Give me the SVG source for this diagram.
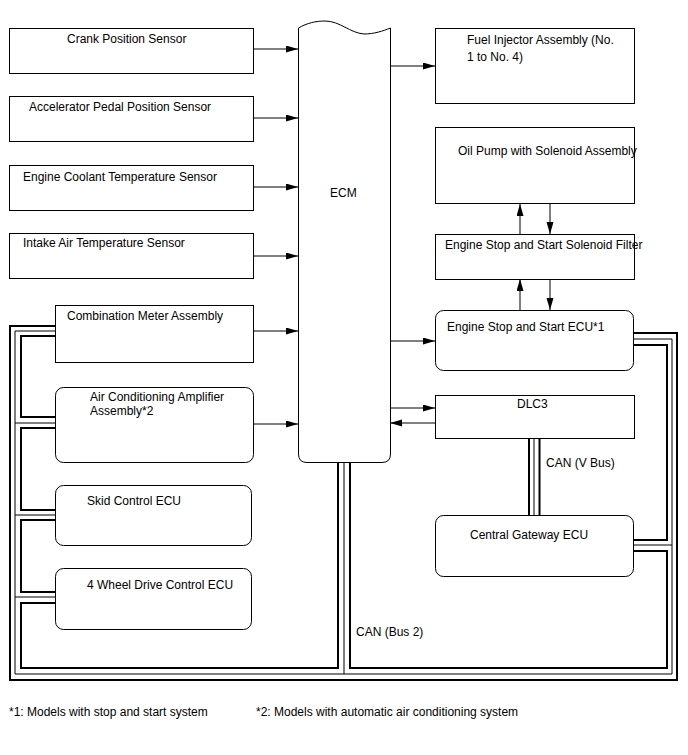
<svg xmlns="http://www.w3.org/2000/svg" width="688" height="755" viewBox="0 0 688 755">
<style>
text{font-family:"Liberation Sans",Arial,sans-serif;font-size:12px;fill:#000}
.box{fill:#fff;stroke:#000;stroke-width:1}
.ln{fill:none;stroke:#000;stroke-width:1}
.thick{fill:none;stroke:#000;stroke-width:2}
.thin{fill:none;stroke:#000;stroke-width:1}
</style>
<defs>
<marker id="ah" markerUnits="userSpaceOnUse" markerWidth="12" markerHeight="8" refX="12" refY="3.5" orient="auto">
<path d="M0,0 L12,3.5 L0,7 z" fill="#000"/>
</marker>
</defs>
<g id="connectors">
<path class="ln" d="M254,49 H298" marker-end="url(#ah)"/>
<path class="ln" d="M254,118 H298" marker-end="url(#ah)"/>
<path class="ln" d="M254,187 H298" marker-end="url(#ah)"/>
<path class="ln" d="M254,256 H298" marker-end="url(#ah)"/>
<path class="ln" d="M254,331 H298" marker-end="url(#ah)"/>
<path class="ln" d="M254,424 H298" marker-end="url(#ah)"/>
<path class="ln" d="M390,66 H435" marker-end="url(#ah)"/>
<path class="ln" d="M390,341 H435" marker-end="url(#ah)"/>
<path class="ln" d="M390,408 H435" marker-end="url(#ah)"/>
<path class="ln" d="M435,423 H390" marker-end="url(#ah)"/>
<path class="ln" d="M520,234 V204" marker-end="url(#ah)"/>
<path class="ln" d="M550,204 V234" marker-end="url(#ah)"/>
<path class="ln" d="M520,310 V279" marker-end="url(#ah)"/>
<path class="ln" d="M550,279 V310" marker-end="url(#ah)"/>
<path class="thick" d="M55,326 H10 V680 H677 V333 H634"/>
<path class="thin" d="M55,331 H15 V674 H672 V339 H634"/>
<path class="thin" d="M15,423 H55 M15,515 H55 M15,597 H55 M344,462 V674 M672,545 H634"/>
<path class="thick" d="M55,336 H21 V417 H55 M55,428 H21 V510 H55 M55,520 H21 V592 H55 M55,603 H21 V668 H338 V462"/>
<path class="thick" d="M350,462 V668 H667 V551 H634 M634,345 H667 V540 H634"/>
<path class="thick" d="M529,438 V515 M539.5,438 V515"/>
<path class="thin" d="M534,438 V515"/>
</g>
<g id="crank"><rect class="box" x="9.5" y="28.5" width="244" height="45"/><text x="67" y="43">Crank Position Sensor</text></g>
<g id="accel"><rect class="box" x="9.5" y="96.5" width="244" height="45"/><text x="29" y="111">Accelerator Pedal Position Sensor</text></g>
<g id="coolant"><rect class="box" x="9.5" y="165.5" width="244" height="45"/><text x="23" y="181">Engine Coolant Temperature Sensor</text></g>
<g id="intake"><rect class="box" x="9.5" y="233.5" width="244" height="45"/><text x="23" y="247">Intake Air Temperature Sensor</text></g>
<g id="combo"><rect class="box" x="55.5" y="305.5" width="198" height="57"/><text x="67" y="320">Combination Meter Assembly</text></g>
<g id="aircon"><rect class="box" x="55.5" y="387.5" width="198" height="75" rx="8"/><text x="90" y="401">Air Conditioning Amplifier</text><text x="90" y="415">Assembly*2</text></g>
<g id="skid"><rect class="box" x="55.5" y="485.5" width="196" height="60" rx="8"/><text x="87" y="505">Skid Control ECU</text></g>
<g id="fwd"><rect class="box" x="55.5" y="568.5" width="196" height="61" rx="8"/><text x="87" y="589">4 Wheel Drive Control ECU</text></g>
<g id="ecm"><path class="box" d="M298.5,28 C307,23 316,21 325,21 C340,21 350,33 364,34 C374,34 383,31 390.5,28 V454 Q390.5,462.5 382,462.5 H307 Q298.5,462.5 298.5,454 Z"/><text x="330" y="197">ECM</text></g>
<g id="fuel"><rect class="box" x="435.5" y="28.5" width="199" height="75"/><text x="467" y="44">Fuel Injector Assembly (No.</text><text x="467" y="61">1 to No. 4)</text></g>
<g id="oilpump"><rect class="box" x="435.5" y="127.5" width="199" height="76"/><text x="458" y="155">Oil Pump with Solenoid Assembly</text></g>
<g id="filter"><rect class="box" x="435.5" y="234.5" width="199" height="45"/><text x="445" y="249">Engine Stop and Start Solenoid Filter</text></g>
<g id="ssecu"><rect class="box" x="435.5" y="310.5" width="198" height="60" rx="8"/><text x="447" y="331">Engine Stop and Start ECU*1</text></g>
<g id="dlc3"><rect class="box" x="435.5" y="395.5" width="199" height="43"/><text x="517" y="408">DLC3</text></g>
<g id="gateway"><rect class="box" x="435.5" y="515.5" width="198" height="61" rx="8"/><text x="470" y="539">Central Gateway ECU</text></g>
<g id="labels">
<text x="546" y="467">CAN (V Bus)</text>
<text x="356" y="636">CAN (Bus 2)</text>
<text x="9" y="716">*1: Models with stop and start system</text>
<text x="256" y="716">*2: Models with automatic air conditioning system</text>
</g>
</svg>
